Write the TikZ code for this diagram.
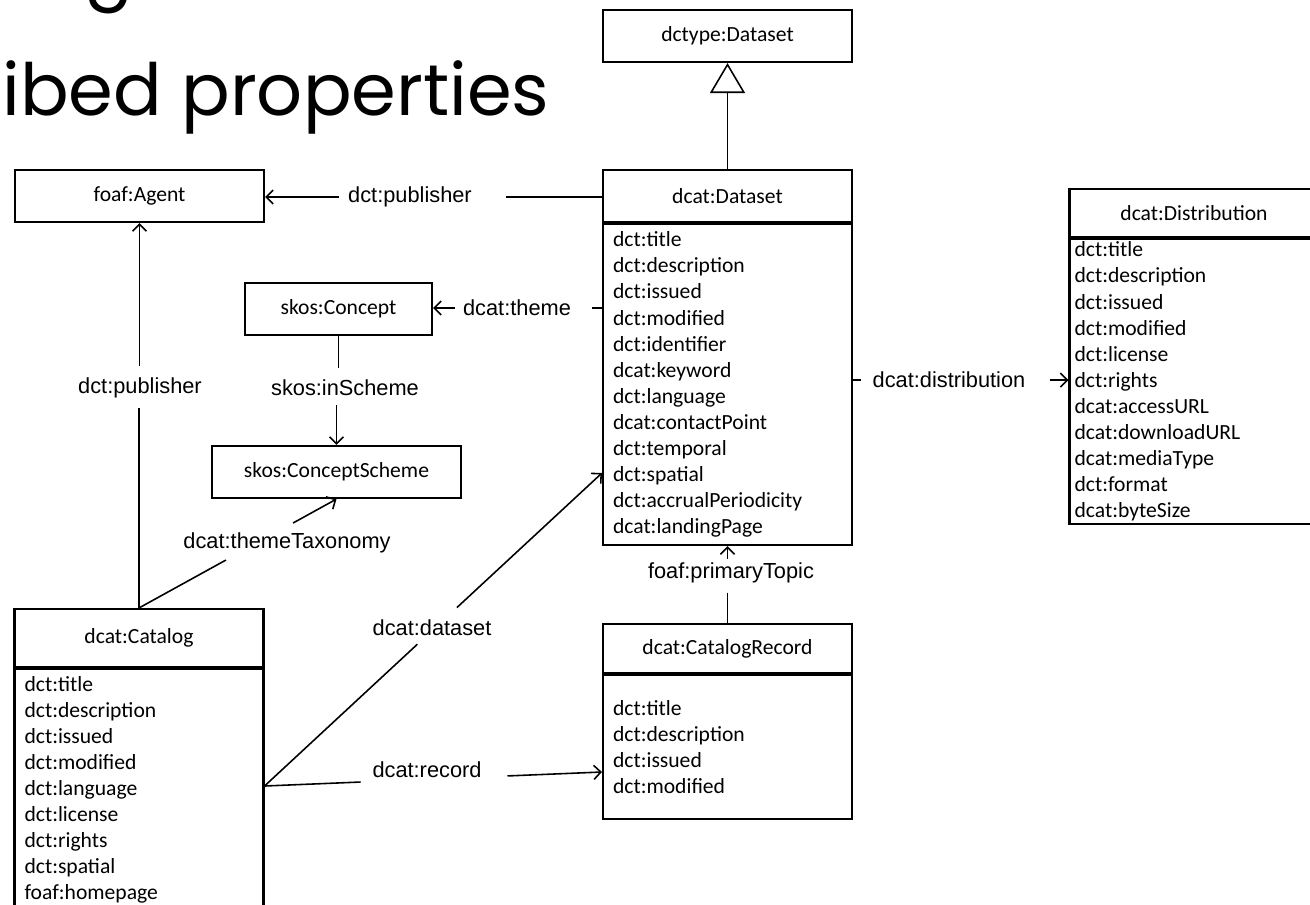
\documentclass[tikz,border=0pt]{standalone}
\usepackage{fontspec}
\setmainfont{Carlito}
\newfontfamily\lblfont{Liberation Sans}
\newfontfamily\titlefont{Poppins}
\usetikzlibrary{positioning,calc,arrows.meta}

\tikzset{
  cls/.style={draw, line width=1.2pt, minimum width=4.98cm, minimum height=1.04cm, inner sep=0pt,
    font=\fontsize{12.3}{14.85}\selectfont},
  attrs/.style={draw, line width=1.2pt, text width=4.58cm, inner xsep=0.2cm, inner ysep=3pt, align=left,
    font=\fontsize{12.3}{14.85}\selectfont},
  lbl/.style={inner sep=0pt, font=\lblfont\fontsize{12.4}{14}\selectfont},
  conn/.style={line width=0.9pt},
  ttl/.style={inner sep=0pt, font=\titlefont\fontsize{41}{50}\selectfont},
}

\begin{document}
\begin{tikzpicture}[x=0.02cm, y=-0.02cm, >={Straight Barb[length=4pt,width=8pt]}]
\useasboundingbox (0,0) rectangle (1310,904);
\clip (0,0) rectangle (1310,904);

% title (cut off by the frame)
\node[ttl, anchor=base east] (title1) at (134,-6) {ing};
\node[ttl, anchor=base west] (title2) at (2,115) {ibed properties};

% classes
\node[cls] (dctype) at (727.5,36) {dctype:Dataset};
\node[cls] (ds) at (727.5,196) {dcat:Dataset};
\node[attrs, minimum height=6.42cm, below=0pt of ds] (dsb) {dct:title\\ dct:description\\ dct:issued\\ dct:modified\\ dct:identifier\\ dcat:keyword\\ dct:language\\ dcat:contactPoint\\ dct:temporal\\ dct:spatial\\ dct:accrualPeriodicity\\ dcat:landingPage};

\node[cls] (agent) at (139.5,196) {foaf:Agent};
\node[cls, minimum width=3.74cm] (concept) at (338.5,309) {skos:Concept};
\node[cls] (scheme) at (336.5,472) {skos:ConceptScheme};

\node[cls, minimum height=1.16cm] (cat) at (139,638) {dcat:Catalog};
\node[attrs, inner ysep=4pt, below=0pt of cat] (catb) {dct:title\\ dct:description\\ dct:issued\\ dct:modified\\ dct:language\\ dct:license\\ dct:rights\\ dct:spatial\\ foaf:homepage};

\node[cls, minimum height=0.98cm] (rec) at (727.5,648.5) {dcat:CatalogRecord};
\node[attrs, minimum height=2.88cm, below=0pt of rec] (recb) {dct:title\\ dct:description\\ dct:issued\\ dct:modified};

\node[cls, minimum height=0.96cm] (dist) at (1194,213) {dcat:Distribution};
\node[attrs, minimum height=5.7cm, inner xsep=0.1cm, text width=4.78cm, inner ysep=0.5pt, below=0pt of dist] (distb) {dct:title\\ dct:description\\ dct:issued\\ dct:modified\\ dct:license\\ dct:rights\\ dcat:accessURL\\ dcat:downloadURL\\ dcat:mediaType\\ dct:format\\ dcat:byteSize};

% labels
\node[lbl] (pub1) at (410,197) {dct:publisher};
\node[lbl] (theme) at (517,308) {dcat:theme};
\node[lbl] (inscheme) at (345,388) {skos:inScheme};
\node[lbl] (pub2) at (140,388) {dct:publisher};
\node[lbl] (taxo) at (287,543) {dcat:themeTaxonomy};
\node[lbl] (dset) at (432,628) {dcat:dataset};
\node[lbl] (record) at (427,770) {dcat:record};
\node[lbl] (topic) at (731,573) {foaf:primaryTopic};
\node[lbl] (distl) at (949,380) {dcat:distribution};

\coordinate (catout) at (catb.east |- 0,786);
\coordinate (dsin) at (dsb.west |- 0,473);
\coordinate (recin) at (recb.west |- 0,772);

% connectors
\draw[conn, -{Triangle[open,length=0.6cm,width=0.7cm]}] (ds.north) -- (dctype.south);

\draw[conn, ->] ([shift={(-9,0)}]pub1.west) -- (agent.east |- pub1.west);
\draw[conn] ([shift={(34,0)}]pub1.east) -- (ds.west |- pub1.east);

\draw[conn, ->] ([shift={(-8,0)}]theme.west) -- (concept.east |- theme.west);
\draw[conn] ([shift={(21,0)}]theme.east) -- (dsb.west |- theme.east);

\draw[conn] (concept.south) -- ($(concept.south |- inscheme.north)+(0,-12)$);
\draw[conn, ->] ($(scheme.north |- inscheme.south)+(0,9)$) -- (scheme.north);

\draw[conn, ->] ($(agent.south |- pub2.north)+(0,-12)$) -- (agent.south);
\draw[conn] ($(cat.north |- pub2.south)+(0,9)$) -- (cat.north);

\draw[conn] (cat.north) -- ($(cat.north)!0.44!(scheme.south)$);
\draw[conn, ->] ($(cat.north)!0.78!(scheme.south)$) -- (scheme.south);

\draw[conn] (catout) -- ($(catout)!0.453!(dsin)$);
\draw[conn, ->] ($(catout)!0.57!(dsin)$) -- (dsin);

\draw[conn] (catout) -- ($(catout)!0.285!(recin)$);
\draw[conn, ->] ($(catout)!0.72!(recin)$) -- (recin);

\draw[conn, ->] ($(dsb.south |- topic.north)+(0,-4)$) -- (dsb.south);
\draw[conn] ($(rec.north |- topic.south)+(0,9)$) -- (rec.north);

\draw[conn] (dsb.east |- distl.west) -- ([shift={(-11,0)}]distl.west);
\draw[conn, ->] ([shift={(24,0)}]distl.east) -- (distb.west |- distl.east);
\end{tikzpicture}
\end{document}
